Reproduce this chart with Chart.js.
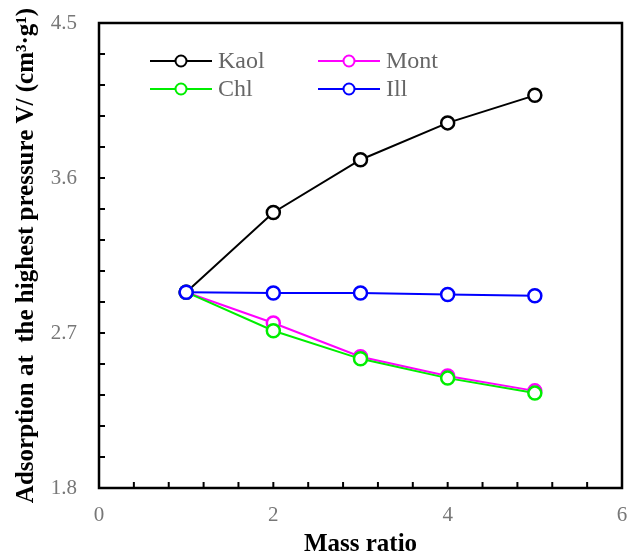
<!DOCTYPE html>
<html>
<head>
<meta charset="utf-8">
<script src="https://cdn.jsdelivr.net/npm/chart.js@4/dist/chart.umd.min.js"></script>
<style>
  html, body { margin: 0; padding: 0; background: #fff; }
  #wrap { width: 635px; height: 555px; }
</style>
</head>
<body>
<div id="wrap"><canvas id="myChart" width="635" height="555"></canvas></div>
<script>
const massRatio = [1, 2, 3, 4, 5];
const kaol = [2.937, 3.40, 3.706, 3.92, 4.08];
const mont = [2.937, 2.758, 2.562, 2.45, 2.364];
const chl = [2.937, 2.713, 2.55, 2.438, 2.351];
const ill = [2.937, 2.932, 2.932, 2.924, 2.916];

const seriesNames = ['Kaol', 'Mont', 'Chl', 'Ill'];
const seriesColors = ['#000000', '#ff00ff', '#00ee00', '#0000ff'];
const seriesValues = [kaol, mont, chl, ill];

const xTicks = [0, 2, 4, 6];
const yTicks = [1.8, 2.7, 3.6, 4.5];

const serif = '"Liberation Serif", "Times New Roman", serif';

function toPoints(vals) {
  return massRatio.map((x, i) => ({ x: x, y: vals[i] }));
}

// frame around the plot plus small inward ticks on left and bottom axes
const frameTicks = {
  id: 'frameTicks',
  afterDraw(chart) {
    const { ctx, chartArea: a, scales } = chart;
    ctx.save();
    ctx.strokeStyle = '#000';
    ctx.lineWidth = 2.5;
    ctx.strokeRect(a.left, a.top, a.right - a.left, a.bottom - a.top);
    ctx.lineWidth = 2;
    for (let i = 0; i <= 15; i++) {
      const px = scales.x.getPixelForValue(i * 0.4);
      ctx.beginPath();
      ctx.moveTo(px, a.bottom);
      ctx.lineTo(px, a.bottom - 6);
      ctx.stroke();
      const py = scales.y.getPixelForValue(1.8 + i * 0.18);
      ctx.beginPath();
      ctx.moveTo(a.left, py);
      ctx.lineTo(a.left + 6, py);
      ctx.stroke();
    }
    ctx.restore();
  }
};

// two-column legend inside the plot
const boxLegend = {
  id: 'boxLegend',
  afterDraw(chart) {
    const { ctx } = chart;
    const cols = [150, 318];
    const rows = [61, 89];
    ctx.save();
    ctx.font = '24px ' + serif;
    ctx.textBaseline = 'middle';
    seriesNames.forEach((name, i) => {
      const x0 = cols[i % 2];
      const y0 = rows[Math.floor(i / 2)];
      ctx.strokeStyle = seriesColors[i];
      ctx.lineWidth = 2;
      ctx.beginPath();
      ctx.moveTo(x0, y0);
      ctx.lineTo(x0 + 62, y0);
      ctx.stroke();
      ctx.fillStyle = '#fff';
      Chart.helpers.drawPoint(ctx, { pointStyle: 'circle', radius: 5.5, borderWidth: 2 }, x0 + 31, y0);
      ctx.fillStyle = '#666';
      ctx.fillText(name, x0 + 68, y0 + 1);
    });
    ctx.restore();
  }
};

const ctx = document.getElementById('myChart').getContext('2d');
const myChart = new Chart(ctx, {
  type: 'line',
  data: {
    datasets: seriesNames.map((name, i) => ({
      label: name,
      data: toPoints(seriesValues[i]),
      borderColor: seriesColors[i],
      backgroundColor: '#fff',
      pointBackgroundColor: '#fff',
      pointBorderColor: seriesColors[i],
      borderWidth: 2,
      pointRadius: 6.5,
      pointBorderWidth: 2.5,
      tension: 0,
      order: 4 - i,
    })),
  },
  plugins: [frameTicks, boxLegend],
  options: {
    responsive: false,
    animation: false,
    layout: { padding: { left: 0, top: 23, right: 13, bottom: 0 } },
    plugins: {
      legend: { display: false },
      tooltip: { enabled: false },
    },
    scales: {
      x: {
        type: 'linear',
        min: 0,
        max: 6,
        afterBuildTicks: (s) => { s.ticks = xTicks.map(v => ({ value: v })); },
        afterFit: (s) => {
          s.height = 67;
          s.paddingLeft = 0;
          s.paddingRight = 0;
        },
        grid: { display: false },
        border: { display: false },
        ticks: {
          padding: 7,
          color: '#777',
          font: { family: serif, size: 21 },
          callback: (v) => String(v),
        },
        title: {
          display: true,
          text: 'Mass ratio',
          color: '#000',
          padding: { top: 0, bottom: 0 },
          font: { family: serif, size: 25, weight: 'bold', lineHeight: 0.8 },
        },
      },
      y: {
        type: 'linear',
        min: 1.8,
        max: 4.5,
        afterBuildTicks: (s) => { s.ticks = yTicks.map(v => ({ value: v })); },
        afterFit: (s) => {
          s.width = 99;
          s.paddingTop = 0;
          s.paddingBottom = 0;
        },
        grid: { display: false },
        border: { display: false },
        ticks: {
          padding: 14,
          color: '#777',
          font: { family: serif, size: 21 },
          callback: (v) => Number(v).toFixed(1),
        },
        title: {
          display: true,
          text: 'Adsorption at  the highest pressure V/ (cm\u00b3\u00b7g\u00b9)',
          color: '#000',
          padding: { top: 12, bottom: 0 },
          font: { family: serif, size: 25, weight: 'bold' },
        },
      },
    },
  },
});
</script>
</body>
</html>
